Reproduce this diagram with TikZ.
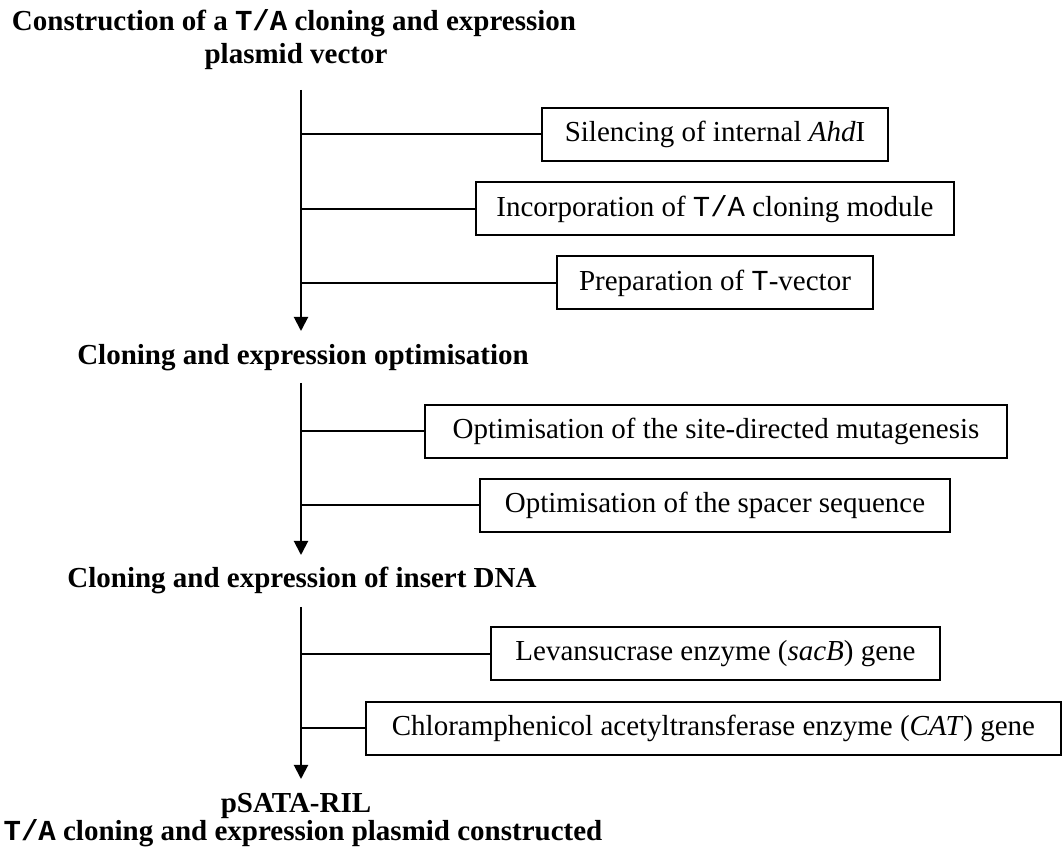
\documentclass[tikz,border=0pt]{standalone}
\usepackage{fontspec}
\setmainfont{Liberation Serif}
\setmonofont{Liberation Mono}
\usetikzlibrary{arrows.meta}

\begin{document}
\begin{tikzpicture}[x=0.4pt,y=-0.4pt,
    every node/.style={font=\fontsize{11.6}{14}\selectfont},
    head/.style={font=\fontsize{11.6}{14}\selectfont\bfseries,anchor=base,inner sep=0pt},
    taskbox/.style={draw,line width=0.8pt,minimum height=21.2pt,inner xsep=0pt,inner ysep=0pt},
    trunk/.style={line width=0.8pt,-{Triangle[width=5.6pt,length=5.6pt]}},
    branch/.style={line width=0.8pt}]
    \useasboundingbox (0,0) rectangle (1062,852);

    % stage headings
    \node[head] (title) at (294,31) {Construction of a \texttt{T/A} cloning and expression};
    \node[head] (titleb) at (296,64) {plasmid vector};
    \node[head] (optim) at (303,365) {Cloning and expression optimisation};
    \node[head] (insert) at (302,588) {Cloning and expression of insert DNA};
    \node[head] (plasmid) at (296,813) {pSATA-RIL};
    \node[head] (done) at (303,841) {\texttt{T/A} cloning and expression plasmid constructed};

    % steps
    \node[taskbox,minimum width=138.4pt] (ahd) at (715,134.5) {Silencing of internal \textit{Ahd}I};
    \node[taskbox,minimum width=191.2pt] (module) at (715,209) {Incorporation of \texttt{T/A} cloning module};
    \node[taskbox,minimum width=126.4pt] (tvec) at (715,283) {Preparation of \texttt{T}-vector};
    \node[taskbox,minimum width=232.8pt] (sdm) at (716,431.5) {Optimisation of the site-directed mutagenesis};
    \node[taskbox,minimum width=188pt] (spacer) at (715,505.5) {Optimisation of the spacer sequence};
    \node[taskbox,minimum width=179.6pt] (sacb) at (715.5,654) {Levansucrase enzyme (\textit{sacB}) gene};
    \node[taskbox,minimum width=278pt] (cat) at (713.5,728.5) {Chloramphenicol acetyltransferase enzyme (\textit{CAT}) gene};

    % trunks
    \coordinate (t1) at (301,90);
    \coordinate (t1end) at (301,331);
    \coordinate (t2) at (301,383);
    \coordinate (t2end) at (301,555);
    \coordinate (t3) at (301,607);
    \coordinate (t3end) at (301,779);
    \draw[trunk] (t1)--(t1end);
    \draw[trunk] (t2)--(t2end);
    \draw[trunk] (t3)--(t3end);

    % branches
    \draw[branch] (ahd.west)--(ahd.west -| t1);
    \draw[branch] (module.west)--(module.west -| t1);
    \draw[branch] (tvec.west)--(tvec.west -| t1);
    \draw[branch] (sdm.west)--(sdm.west -| t2);
    \draw[branch] (spacer.west)--(spacer.west -| t2);
    \draw[branch] (sacb.west)--(sacb.west -| t3);
    \draw[branch] (cat.west)--(cat.west -| t3);
\end{tikzpicture}
\end{document}
